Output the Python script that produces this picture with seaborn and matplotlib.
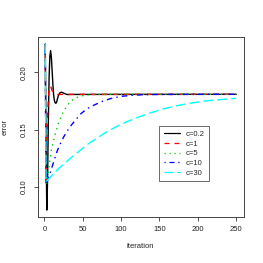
import numpy as np
import pandas as pd
import matplotlib
matplotlib.use("Agg")
import matplotlib.pyplot as plt
import seaborn as sns

# ---- data ----
labels = ["c=0.2", "c=1", "c=5", "c=10", "c=30"]
colors = ["#000000", "#FF0000", "#00CD00", "#0000FF", "#00FFFF"]

it_c02 = [1, 2, 3, 4, 5, 6, 7, 8, 9, 10, 11, 12, 13, 14, 15, 16, 17, 18, 20, 22, 24, 27, 30, 35, 250]
err_c02 = [0.2248, 0.14, 0.0796, 0.105, 0.155, 0.195, 0.214, 0.219, 0.213, 0.201, 0.189, 0.180,
           0.175, 0.1733, 0.1730, 0.1745, 0.1770, 0.1795, 0.1820, 0.1827, 0.1822, 0.1812,
           0.1806, 0.1807, 0.1808]

it_c1 = [1, 2, 3, 4, 5, 6, 7, 8, 9, 10, 12, 14, 16, 20, 250]
err_c1 = [0.2248, 0.105, 0.135, 0.160, 0.177, 0.185, 0.1880, 0.1878, 0.186, 0.1840, 0.1820,
          0.1810, 0.1806, 0.1807, 0.1808]

it_c5 = [1, 2, 3, 5, 7, 9, 11, 14, 18, 22, 26, 30, 35, 40, 47, 55, 65, 80, 250]
err_c5 = [0.2248, 0.103, 0.104, 0.113, 0.123, 0.132, 0.138, 0.146, 0.155, 0.162, 0.167,
          0.1715, 0.175, 0.1775, 0.1792, 0.1802, 0.1806, 0.1808, 0.1808]

it_c10 = [1, 2, 4, 7, 10, 13, 17, 21, 25, 30, 34, 40, 47, 55, 65, 75, 86, 100, 115, 130, 150, 250]
err_c10 = [0.2248, 0.102, 0.106, 0.111, 0.1175, 0.124, 0.132, 0.138, 0.1435, 0.149, 0.153,
           0.158, 0.1635, 0.168, 0.1715, 0.1745, 0.1770, 0.1790, 0.1800, 0.1805, 0.1807, 0.1808]

it_c30 = [1, 2, 4, 6, 10, 15, 21, 28, 34, 45, 56, 65, 80, 95, 108, 125, 140, 155, 170, 190,
          210, 230, 250]
err_c30 = [0.2248, 0.104, 0.106, 0.1073, 0.110, 0.1135, 0.1175, 0.1215, 0.125, 0.131, 0.137,
           0.141, 0.1475, 0.153, 0.157, 0.1615, 0.1650, 0.168, 0.1705, 0.173, 0.175, 0.1762,
           0.1773]

x_ticks = [0, 50, 100, 150, 200, 250]
y_ticks = [0.10, 0.15, 0.20]
y_tick_labels = ["0.10", "0.15", "0.20"]

series = [(labels[0], it_c02, err_c02), (labels[1], it_c1, err_c1), (labels[2], it_c5, err_c5),
          (labels[3], it_c10, err_c10), (labels[4], it_c30, err_c30)]
frames = [pd.DataFrame({"iteration": its, "error": errs, "c": lab}) for lab, its, errs in series]
df = pd.concat(frames, ignore_index=True)

# ---- styling ----
sns.set_style("ticks")
plt.rcParams["font.family"] = ["Liberation Sans", "DejaVu Sans"]

fig = plt.figure(figsize=(2.63, 2.63), dpi=100)
ax = fig.add_axes([0.143, 0.176, 0.784, 0.682])

dashes = ["", (4, 4), (1, 3), (1, 3, 4, 3), (7, 3)]
sns.lineplot(data=df, x="iteration", y="error", hue="c", style="c",
             hue_order=labels, style_order=labels,
             palette=dict(zip(labels, colors)), dashes=dict(zip(labels, dashes)),
             estimator=None, sort=False, linewidth=1.0, ax=ax)

ax.set_xlim(-8.96, 259.96)
ax.set_ylim(0.0738, 0.2306)
ax.set_xticks(x_ticks)
ax.set_xticklabels([str(t) for t in x_ticks])
ax.set_yticks(y_ticks)
ax.set_yticklabels(y_tick_labels, rotation=90, va="center")
ax.tick_params(axis="both", labelsize=5.5, length=3, width=0.6, color="#333333",
               labelcolor="#222222")
ax.tick_params(axis="x", pad=4)
ax.tick_params(axis="y", pad=4)
for s in ax.spines.values():
    s.set_visible(True)
    s.set_color("#444444")
    s.set_linewidth(0.7)

ax.set_xlabel("iteration", fontsize=5.5, labelpad=7, color="#222222")
ax.set_ylabel("error", fontsize=5.5, labelpad=9, color="#222222")

leg = ax.legend(loc="upper left", bbox_to_anchor=(0.590, 0.5056), borderaxespad=0,
                fontsize=5.5, frameon=True, fancybox=False, handlelength=2.05,
                handletextpad=0.8, borderpad=0.6, labelspacing=0.3)
leg.get_frame().set_edgecolor("#444444")
leg.get_frame().set_linewidth(0.7)
for line in leg.get_lines():
    line.set_linewidth(0.9)

fig.savefig("out.png", dpi=100)
